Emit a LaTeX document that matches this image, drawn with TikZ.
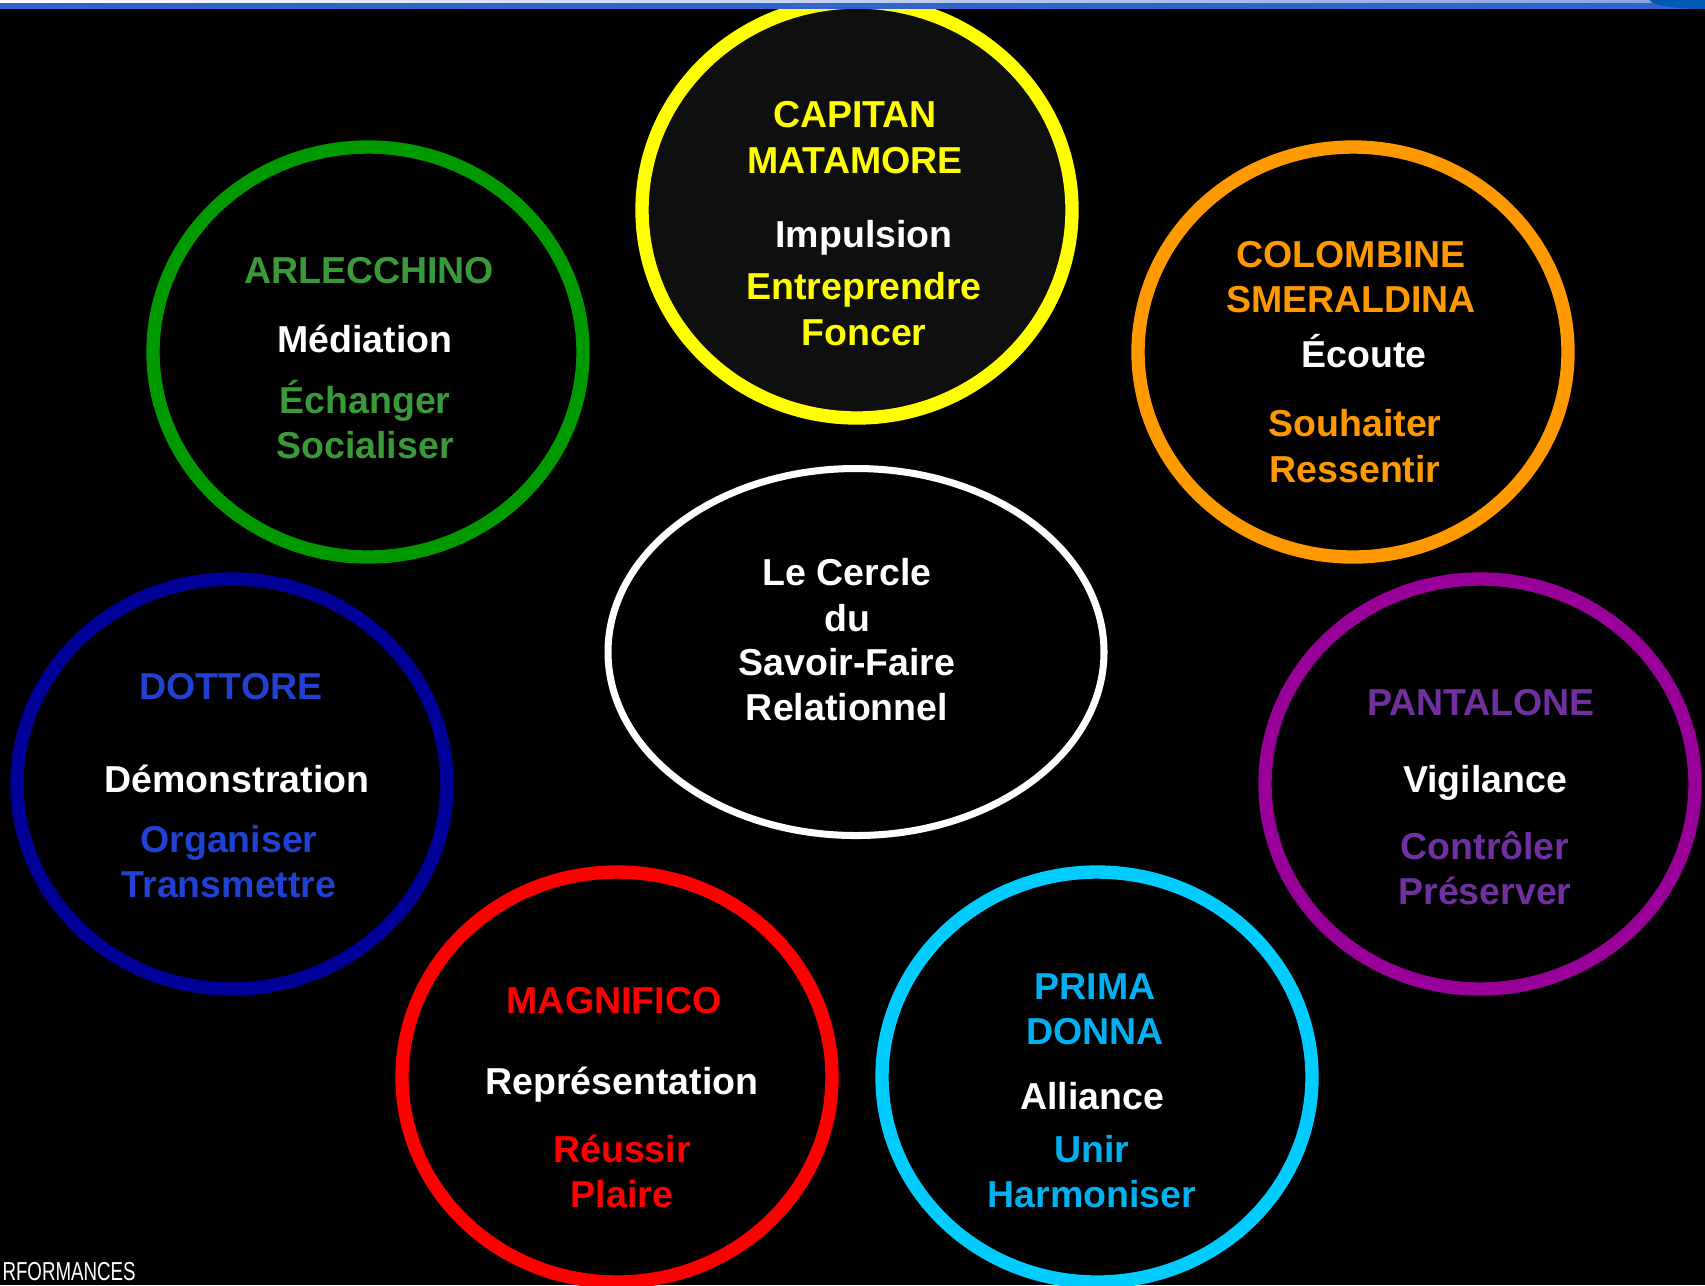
\documentclass[tikz,border=0pt]{standalone}
\usepackage{fontspec}
\setmainfont{Liberation Sans}
\usetikzlibrary{shapes.geometric}

\definecolor{capyel}{HTML}{FFFF00}
\definecolor{arlring}{HTML}{009900}
\definecolor{arltxt}{HTML}{3A9A3A}
\definecolor{colorng}{HTML}{FF9900}
\definecolor{dotring}{HTML}{000099}
\definecolor{dottxt}{HTML}{2141D2}
\definecolor{panring}{HTML}{990099}
\definecolor{pantxt}{HTML}{7030A0}
\definecolor{magred}{HTML}{FF0000}
\definecolor{primring}{HTML}{00CCFF}
\definecolor{primtxt}{HTML}{00B0F0}
\definecolor{capfill}{HTML}{0F0F0F}
\definecolor{barblue}{HTML}{3163CA}

\tikzset{
    ring/.style={ellipse, draw=#1, line width=3.8pt, inner sep=0pt,
        minimum width=4.3cm, minimum height=4.1cm},
    lbl/.style={font=\bfseries\fontsize{10.67}{13}\selectfont, text=#1,
        anchor=base, inner sep=0pt},
}

\begin{document}
\begin{tikzpicture}[x=0.1mm, y=-0.1mm]
    % fond
    \fill[black] (0,0) rectangle (1705,1285);
    \useasboundingbox (0,0) rectangle (1705,1285);
    \clip (0,0) rectangle (1705,1285);

    % ---- les cercles ----
    \node[ring=capyel, fill=capfill, minimum height=4.16cm] (capitan) at (857,210) {};
    \node[ring=arlring] (arlecchino) at (368,352) {};
    \node[ring=colorng] (colombine) at (1353,352) {};
    \node[ellipse, draw=white, line width=2pt, inner sep=0pt,
        minimum width=4.96cm, minimum height=3.67cm] (cercle) at (856,652) {};
    \node[ring=dotring] (dottore) at (232,784) {};
    \node[ring=panring] (pantalone) at (1480,784) {};
    \node[ring=magred] (magnifico) at (617,1077) {};
    \node[ring=primring] (prima) at (1097,1077) {};

    % ---- Capitan ----
    \node[lbl=capyel] (capA) at (855,127) {CAPITAN};
    \node[lbl=capyel] (capB) at (855,173) {MATAMORE};
    \node[lbl=white]  (capC) at (864,247) {Impulsion};
    \node[lbl=capyel] (capD) at (864,299) {Entreprendre};
    \node[lbl=capyel] (capE) at (864,345) {Foncer};

    % ---- Arlecchino ----
    \node[lbl=arltxt] (arlA) at (369,283) {ARLECCHINO};
    \node[lbl=white]  (arlB) at (365,352) {Médiation};
    \node[lbl=arltxt] (arlC) at (365,413) {Échanger};
    \node[lbl=arltxt] (arlD) at (365,458) {Socialiser};

    % ---- Colombine ----
    \node[lbl=colorng] (colA) at (1351,267) {COLOMBINE};
    \node[lbl=colorng] (colB) at (1351,312) {SMERALDINA};
    \node[lbl=white]   (colC) at (1364,367) {Écoute};
    \node[lbl=colorng] (colD) at (1355,436) {Souhaiter};
    \node[lbl=colorng] (colE) at (1355,482) {Ressentir};

    % ---- centre ----
    \node[lbl=white] (cerA) at (847,585) {Le Cercle};
    \node[lbl=white] (cerB) at (847,631) {du};
    \node[lbl=white] (cerC) at (847,675) {Savoir-Faire};
    \node[lbl=white] (cerD) at (847,720) {Relationnel};

    % ---- Dottore ----
    \node[lbl=dottxt] (dotA) at (231,699) {DOTTORE};
    \node[lbl=white]  (dotB) at (237,792) {Démonstration};
    \node[lbl=dottxt] (dotC) at (229,852) {Organiser};
    \node[lbl=dottxt] (dotD) at (229,897) {Transmettre};

    % ---- Pantalone ----
    \node[lbl=pantxt] (panA) at (1481,715) {PANTALONE};
    \node[lbl=white]  (panB) at (1485,792) {Vigilance};
    \node[lbl=pantxt] (panC) at (1485,859) {Contrôler};
    \node[lbl=pantxt] (panD) at (1485,904) {Préserver};

    % ---- Magnifico ----
    \node[lbl=magred] (magA) at (614,1013) {MAGNIFICO};
    \node[lbl=white]  (magB) at (622,1094) {Représentation};
    \node[lbl=magred] (magC) at (622,1162) {Réussir};
    \node[lbl=magred] (magD) at (622,1207) {Plaire};

    % ---- Prima Donna ----
    \node[lbl=primtxt] (priA) at (1095,999) {PRIMA};
    \node[lbl=primtxt] (priB) at (1095,1044) {DONNA};
    \node[lbl=white]   (priC) at (1092,1109) {Alliance};
    \node[lbl=primtxt] (priD) at (1092,1162) {Unir};
    \node[lbl=primtxt] (priE) at (1092,1207) {Harmoniser};

    % ---- bandeau du haut ----
    \shade[left color=white, right color=barblue!60] (0,0) rectangle (1705,3);
    \fill[barblue] (0,3) rectangle (1705,9);
    \fill[blue!50!cyan!70!black] (1705,0) ellipse (55 and 9);

    % ---- texte en bas a gauche ----
    \node[anchor=base west, inner sep=0pt, text=white, xscale=0.72,
        font=\fontsize{7.4}{9}\selectfont] (perf) at (2,1280) {RFORMANCES};
\end{tikzpicture}
\end{document}
